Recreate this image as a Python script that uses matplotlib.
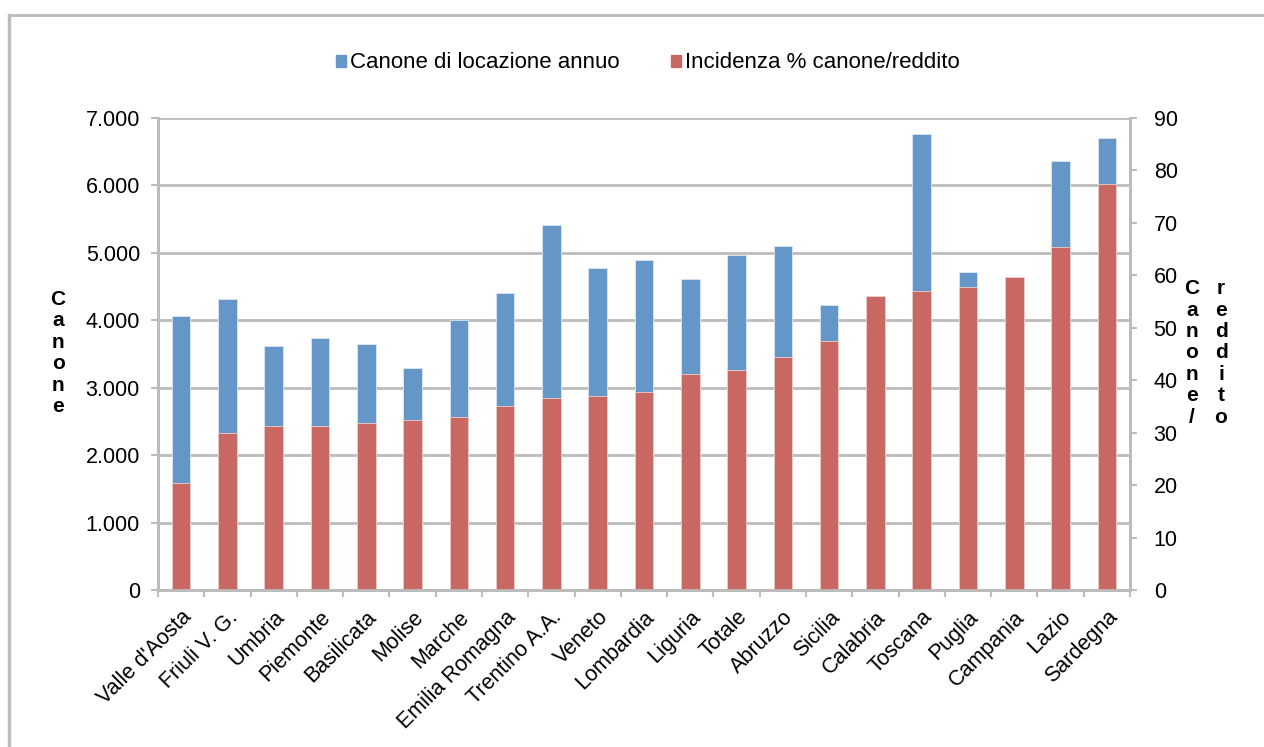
import matplotlib.pyplot as plt
from matplotlib.lines import Line2D
from matplotlib.patches import Patch
import numpy as np

plt.rcParams['font.family'] = ['Liberation Sans', 'DejaVu Sans']

# Dati per regione
regioni = ["Valle d'Aosta", "Friuli V. G.", "Umbria", "Piemonte", "Basilicata",
           "Molise", "Marche", "Emilia Romagna", "Trentino A.A.", "Veneto",
           "Lombardia", "Liguria", "Totale", "Abruzzo", "Sicilia", "Calabria",
           "Toscana", "Puglia", "Campania", "Lazio", "Sardegna"]
canone = [4055, 4310, 3615, 3735, 3640, 3290, 4005, 4410, 5410, 4780,
          4895, 4615, 4970, 5105, 4220, 3800, 6765, 4710, 4400, 6365, 6695]
incidenza = [20.3, 30.0, 31.2, 31.2, 31.8, 32.4, 33.0, 35.1, 36.6, 36.9,
             37.8, 41.1, 42.0, 44.4, 47.4, 56.1, 57.0, 57.8, 59.6, 65.4, 77.4]

grigio = '#bcbcbc'
blu = '#6497c7'
rosso = '#c96762'
fs = 15.5

fig = plt.figure(figsize=(12.64, 7.47), dpi=100)
ax = fig.add_axes([0.125, 0.2102, 0.769, 0.632])
ax2 = ax.twinx()

x = np.arange(len(regioni))
w = 0.40
ax.bar(x, canone, width=w, color=blu, edgecolor='#dbe6f2', linewidth=0.6, zorder=2)
ax2.bar(x, incidenza, width=w, color=rosso, edgecolor='#eccfcd', linewidth=0.6, zorder=2)

ax.set_xlim(-0.5, len(regioni) - 0.5)
ax.set_ylim(0, 7000)
ax2.set_ylim(0, 90)

# griglia sull'asse sinistro
ax.set_axisbelow(True)
ax.set_yticks(np.arange(0, 7001, 1000))
ax.set_yticklabels(['0'] + ['{:,}'.format(v).replace(',', '.') for v in range(1000, 7001, 1000)])
ax.yaxis.grid(True, color=grigio, linewidth=2)
ax2.set_yticks(np.arange(0, 91, 10))

ax.set_xticks(x)
ax.set_xticklabels(regioni, rotation=45, ha='right', rotation_mode='anchor', fontsize=fs)
ax.set_xticks(np.arange(-0.5, len(regioni)), minor=True)
ax.tick_params(axis='x', which='major', length=0, pad=12)
ax.tick_params(axis='x', which='minor', length=5, width=1.5, color=grigio)
ax.tick_params(axis='y', length=5, width=1.5, color=grigio, labelsize=fs, pad=8)
ax2.tick_params(axis='y', length=5, width=1.5, color=grigio, labelsize=fs, pad=12)

for a in (ax, ax2):
    for s in a.spines.values():
        s.set_color(grigio)
        s.set_linewidth(2)
    a.spines['top'].set_visible(False)

# etichette degli assi, lettera per lettera
fig.text(0.046, 1 - 353 / 747, '\n'.join('Canone'), fontsize=15, fontweight='bold',
         ha='center', va='center', linespacing=1.16)
fig.text(0.943, 1 - 353 / 747, '\n'.join('Canone/'), fontsize=15, fontweight='bold',
         ha='center', va='center', linespacing=1.16)
fig.text(0.966, 1 - 353 / 747, '\n'.join('reddito'), fontsize=15, fontweight='bold',
         ha='center', va='center', linespacing=1.16)

handles = [Patch(color=blu), Patch(color=rosso)]
fig.legend(handles, ['Canone di locazione annuo', 'Incidenza % canone/reddito'],
           loc='center', bbox_to_anchor=(648 / 1264, 1 - 63 / 747), ncol=2,
           frameon=False, fontsize=16, handlelength=0.45, handleheight=0.45,
           handletextpad=0.2, columnspacing=2.3)

# cornice del grafico
fig.add_artist(Line2D([8.5 / 1264, 8.5 / 1264], [0, 1 - 15 / 747], color=grigio, linewidth=2.5))
fig.add_artist(Line2D([8.5 / 1264, 1], [1 - 15 / 747, 1 - 15 / 747], color=grigio, linewidth=2))

fig.savefig('out.png', dpi=100)
